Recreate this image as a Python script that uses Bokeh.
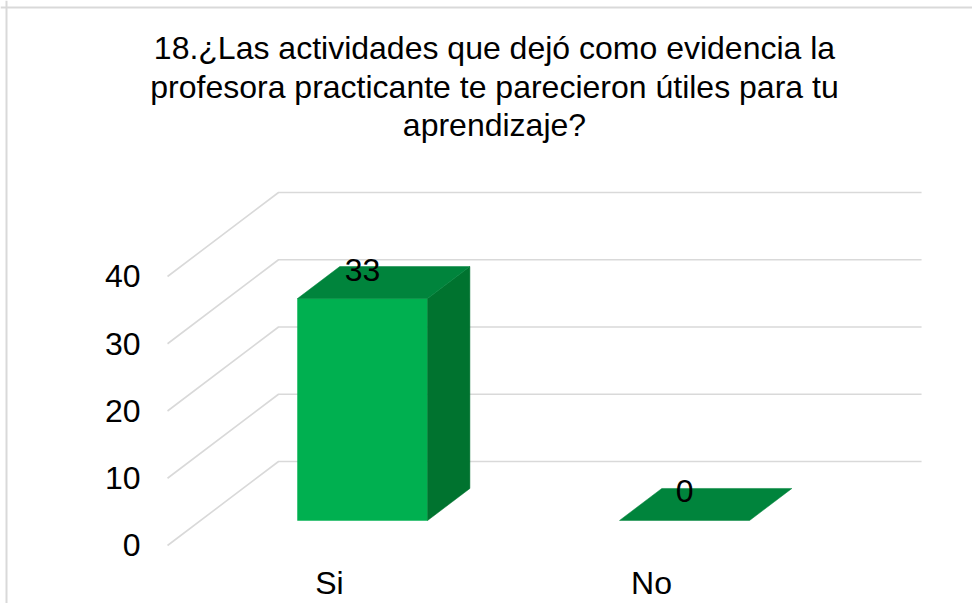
from bokeh.plotting import figure
from bokeh.models import Range1d, Span, Label
from bokeh.embed import file_html
from bokeh.resources import INLINE
from bokeh.core.properties import value

# ---- data ----
title_lines = [
    "18.¿Las actividades que dejó como evidencia la",
    "profesora practicante te parecieron útiles para tu",
    "aprendizaje?",
]
categories = ["Si", "No"]
counts = [33, 0]
y_ticks = [0, 10, 20, 30, 40]
y_tick_labels = ["0", "10", "20", "30", "40"]

# ---- layout / projection constants ----
W, H = 972, 603
FONT = "Liberation Sans"
FS = "32px"
DX = 0.3447     # x shift (category units) per unit depth
DY = 12.49      # y shift (value units) per unit depth
BAR_W = 0.404
D0, D1 = 0.298, 0.679
U0, U1 = -0.503, 1.494

FRONT = "#00B050"
TOP = "#00843C"
SIDE = "#00732F"
GRID = "#D9D9D9"


def proj(u, v, d):
    return u + d * DX, v + d * DY


p = figure(width=W, height=H, x_range=Range1d(-1.0217, 1.9969),
           y_range=Range1d(-8.625, 81.04), output_backend="svg",
           toolbar_location=None, min_border=0,
           x_axis_type=None, y_axis_type=None)
p.grid.visible = False
p.outline_line_color = None
p.background_fill_color = "white"
p.border_fill_color = "white"

# chart border (left/top)
p.add_layout(Span(location=-1.0031, dimension="height", line_color=GRID, line_width=2))
p.add_layout(Span(location=80.0, dimension="width", line_color=GRID, line_width=2))

# gridlines: back wall + side wall
gx, gy = [], []
for v in y_ticks:
    a = proj(U0, v, 0)
    b = proj(U0, v, 1)
    c = proj(U1, v, 1)
    gx.append([a[0], b[0], c[0]])
    gy.append([a[1], b[1], c[1]])
p.multi_line(gx, gy, line_color=GRID, line_width=1.6)

# bars
fx, fy, sx, sy, tx, ty = [], [], [], [], [], []
for i, c in enumerate(counts):
    l = i - BAR_W / 2
    r = i + BAR_W / 2
    if c > 0:
        pts = [proj(l, 0, D0), proj(r, 0, D0), proj(r, c, D0), proj(l, c, D0)]
        fx.append([q[0] for q in pts]); fy.append([q[1] for q in pts])
        pts = [proj(r, 0, D0), proj(r, 0, D1), proj(r, c, D1), proj(r, c, D0)]
        sx.append([q[0] for q in pts]); sy.append([q[1] for q in pts])
    pts = [proj(l, c, D0), proj(r, c, D0), proj(r, c, D1), proj(l, c, D1)]
    tx.append([q[0] for q in pts]); ty.append([q[1] for q in pts])

p.patches(fx, fy, fill_color=FRONT, line_color=FRONT, line_width=0.5)
p.patches(sx, sy, fill_color=SIDE, line_color=SIDE, line_width=0.5)
p.patches(tx, ty, fill_color=TOP, line_color=TOP, line_width=0.5)

# data labels
lx = [proj(i, c, D0)[0] for i, c in enumerate(counts)]
ly = [proj(i, c, D0)[1] for i, c in enumerate(counts)]
p.text(lx, ly, text=[str(c) for c in counts], y_offset=-29,
       text_align="center", text_baseline="middle",
       text_font=value(FONT), text_font_size=FS, text_color="black")

# y tick labels
p.text([U0] * len(y_ticks), y_ticks, text=y_tick_labels, x_offset=-27,
       text_align="right", text_baseline="middle",
       text_font=value(FONT), text_font_size=FS, text_color="black")

# category labels
p.text(list(range(len(categories))), [0] * len(categories), text=categories,
       y_offset=38, text_align="center", text_baseline="middle",
       text_font=value(FONT), text_font_size=FS, text_color="black")

# title lines
for txt, yv in zip(title_lines, [73.91, 68.11, 62.46]):
    p.add_layout(Label(x=0.5124, y=yv, text=txt, text_align="center",
                       text_baseline="alphabetic", text_font=FONT,
                       text_font_size=FS, text_color="black"))

open("out.html", "w").write(file_html(p, INLINE))
